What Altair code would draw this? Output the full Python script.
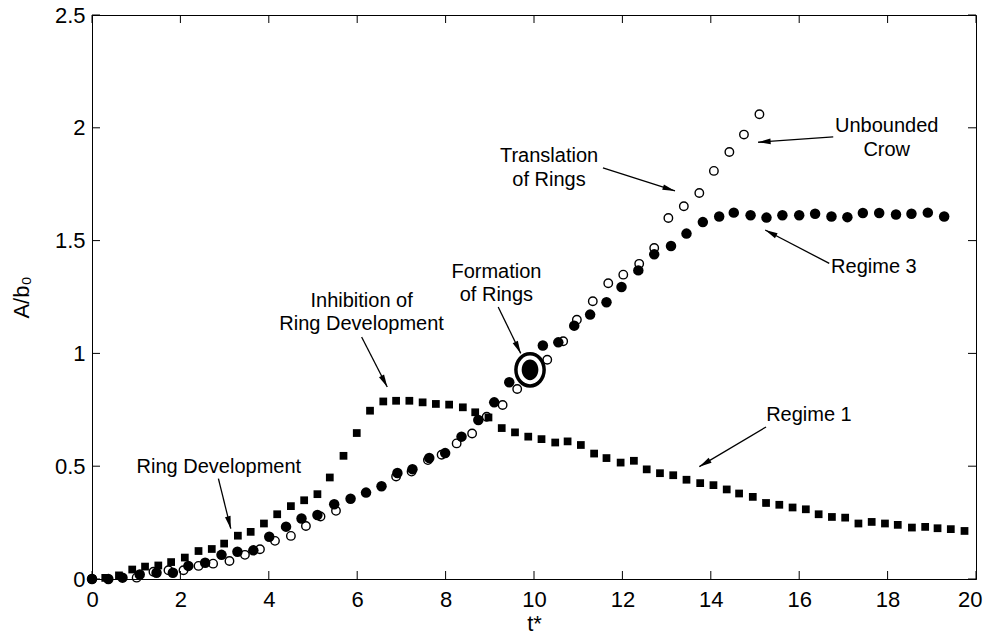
import math
import altair as alt
import pandas as pd

# ---------------- data ----------------
# Regime 1 : filled squares
sq_t = [0.00, 0.30, 0.61, 0.91, 1.20, 1.50, 1.79, 2.10, 2.41, 2.71, 2.99, 3.30, 3.59, 3.89,
        4.19, 4.50, 4.80, 5.10, 5.38, 5.69, 5.99, 6.29, 6.59, 6.88, 7.18, 7.48, 7.78, 8.08,
        8.39, 8.67, 8.97, 9.27, 9.57, 9.87, 10.17, 10.48, 10.76, 11.06, 11.36, 11.64, 11.96,
        12.26, 12.55, 12.85, 13.15, 13.45, 13.76, 14.06, 14.36, 14.64, 14.95, 15.25, 15.55,
        15.85, 16.15, 16.44, 16.74, 17.04, 17.34, 17.64, 17.94, 18.23, 18.55, 18.85, 19.13,
        19.43, 19.74]
sq_a = [0.000, 0.005, 0.016, 0.042, 0.055, 0.060, 0.075, 0.095, 0.124, 0.133, 0.157, 0.192,
        0.209, 0.246, 0.287, 0.323, 0.349, 0.376, 0.450, 0.546, 0.647, 0.746, 0.787, 0.790,
        0.790, 0.783, 0.776, 0.773, 0.761, 0.739, 0.716, 0.669, 0.650, 0.631, 0.620, 0.605,
        0.610, 0.594, 0.556, 0.536, 0.516, 0.524, 0.486, 0.469, 0.460, 0.440, 0.425, 0.416,
        0.397, 0.379, 0.364, 0.337, 0.329, 0.317, 0.309, 0.287, 0.275, 0.272, 0.246, 0.253,
        0.246, 0.240, 0.228, 0.231, 0.225, 0.221, 0.213]

# Regime 3 : filled circles
fc_t = [0.00, 0.37, 0.69, 1.08, 1.46, 1.83, 2.18, 2.56, 2.93, 3.29, 3.65, 4.01, 4.39, 4.74,
        5.10, 5.48, 5.85, 6.20, 6.55, 6.91, 7.25, 7.63, 7.99, 8.36, 8.74, 9.10, 9.44, 10.20,
        10.55, 10.91, 11.27, 11.64, 11.98, 12.36, 12.72, 13.10, 13.45, 13.82, 14.19, 14.52,
        14.90, 15.26, 15.62, 16.00, 16.36, 16.73, 17.09, 17.44, 17.81, 18.19, 18.54, 18.91,
        19.28]
fc_a = [0.000, 0.000, 0.006, 0.020, 0.028, 0.028, 0.058, 0.072, 0.107, 0.121, 0.127, 0.187,
        0.232, 0.268, 0.284, 0.331, 0.356, 0.383, 0.411, 0.470, 0.487, 0.536, 0.558, 0.631,
        0.705, 0.783, 0.872, 1.035, 1.049, 1.123, 1.172, 1.227, 1.294, 1.368, 1.439, 1.476,
        1.531, 1.582, 1.607, 1.624, 1.612, 1.602, 1.612, 1.612, 1.619, 1.607, 1.604, 1.622,
        1.622, 1.616, 1.619, 1.624, 1.607]

# Unbounded Crow : open circles
oc_t = [0.00, 1.01, 1.39, 1.73, 2.07, 2.41, 2.74, 3.11, 3.46, 3.80, 4.14, 4.50, 4.84, 5.17,
        5.52, 6.88, 7.23, 7.60, 7.91, 8.25, 8.60, 8.93, 9.29, 9.62, 10.30, 10.66, 10.97,
        11.33, 11.68, 12.02, 12.38, 12.72, 13.04, 13.39, 13.74, 14.07, 14.42, 14.75, 15.10]
oc_a = [0.000, 0.006, 0.032, 0.039, 0.039, 0.058, 0.068, 0.080, 0.107, 0.132, 0.169, 0.191,
        0.235, 0.277, 0.302, 0.454, 0.476, 0.527, 0.551, 0.601, 0.645, 0.719, 0.771, 0.842,
        0.972, 1.054, 1.149, 1.231, 1.311, 1.349, 1.397, 1.467, 1.600, 1.652, 1.711, 1.809,
        1.893, 1.970, 2.060]

# highlighted point ("Formation of Rings")
hl_t = [9.91]
hl_a = [0.927]

x_ticks = [0, 2, 4, 6, 8, 10, 12, 14, 16, 18, 20]
y_ticks = [0, 0.5, 1, 1.5, 2, 2.5]

# annotation text (one row per line)
ann_text = ["Ring Development", "Inhibition of", "Ring Development", "Formation", "of Rings",
            "Translation", "of Rings", "Unbounded", "Crow", "Regime 3", "Regime 1"]
ann_x = [2.87, 6.10, 6.10, 9.15, 9.15, 10.34, 10.34, 17.98, 17.98, 17.69, 16.22]
ann_y = [0.496, 1.233, 1.130, 1.360, 1.257, 1.877, 1.770, 2.007, 1.901, 1.383, 0.725]

# arrows (start -> tip)
arr_x1 = [2.86, 6.10, 9.19, 11.56, 16.77, 16.68, 15.25]
arr_y1 = [0.445, 1.073, 1.206, 1.822, 1.960, 1.399, 0.674]
arr_x2 = [3.14, 6.68, 9.70, 13.19, 15.07, 15.23, 13.74]
arr_y2 = [0.223, 0.851, 1.000, 1.720, 1.936, 1.547, 0.498]

# ---------------- layout ----------------
W, H = 884, 564
FONT = "Liberation Sans"

sx = W / 20.0
sy = H / 2.5

xs = alt.Scale(domain=[0, 20], nice=False, zero=False)
ys = alt.Scale(domain=[0, 2.5], nice=False, zero=False)

xaxis = alt.Axis(values=x_ticks, tickSize=0, labelPadding=10, labelFlush=True,
                 labelFlushOffset=6, labelOverlap=False, title="t*", titleY=51, titleX=W / 2,
                 titleBaseline="alphabetic", titleAlign="center", grid=False)
yaxis = alt.Axis(values=y_ticks, format="~g", tickSize=0, labelPadding=7, labelFlush=False,
                 labelOverlap=False, title="A/b₀", titleX=-64, titleY=H / 2,
                 titleAngle=270, titleAlign="center", titleBaseline="alphabetic", grid=False)

sq_df = pd.DataFrame({"t": sq_t, "a": sq_a})
fc_df = pd.DataFrame({"t": fc_t, "a": fc_a})
oc_df = pd.DataFrame({"t": oc_t, "a": oc_a})
hl_df = pd.DataFrame({"t": hl_t, "a": hl_a})
ann_df = pd.DataFrame({"t": ann_x, "a": ann_y, "label": ann_text})

angles = []
for x1, y1, x2, y2 in zip(arr_x1, arr_y1, arr_x2, arr_y2):
    dx = (x2 - x1) * sx
    dy = -(y2 - y1) * sy
    ang = math.degrees(math.atan2(dx, -dy)) % 360
    angles.append(ang)
arr_df = pd.DataFrame({"t": arr_x1, "a": arr_y1, "t2": arr_x2, "a2": arr_y2, "ang": angles})
head_df = pd.DataFrame({"t": arr_x2, "a": arr_y2, "ang": angles})
xt_df = pd.DataFrame({"t": x_ticks})
yt_df = pd.DataFrame({"a": y_ticks})


def X(field="t"):
    return alt.X(f"{field}:Q", scale=xs, axis=xaxis)


def Y(field="a"):
    return alt.Y(f"{field}:Q", scale=ys, axis=yaxis)


def ellipse_path(rx, ry):
    k = 0.5523
    return (f"M0,{-ry} C{k*rx:.4f},{-ry} {rx},{-k*ry:.4f} {rx},0 "
            f"C{rx},{k*ry:.4f} {k*rx:.4f},{ry} 0,{ry} "
            f"C{-k*rx:.4f},{ry} {-rx},{k*ry:.4f} {-rx},0 "
            f"C{-rx},{-k*ry:.4f} {-k*rx:.4f},{-ry} 0,{-ry} Z")


squares = alt.Chart(sq_df).mark_square(size=60, color="black", opacity=1).encode(x=X(), y=Y())
opens = alt.Chart(oc_df).mark_point(shape="circle", size=72, filled=False, color="black",
                                    strokeWidth=1.4, opacity=1).encode(x=X(), y=Y())
filled = alt.Chart(fc_df).mark_circle(size=110, color="black", opacity=1).encode(x=X(), y=Y())

ring = alt.Chart(hl_df).mark_point(shape=ellipse_path(0.876, 1.0), size=1037, filled=True,
                                   fill="white", stroke="black", strokeWidth=3.5,
                                   opacity=1).encode(x=X(), y=Y())
core = alt.Chart(hl_df).mark_point(shape=ellipse_path(0.807, 1.0), size=428, filled=True,
                                   fill="black", strokeWidth=0, opacity=1).encode(x=X(), y=Y())

TL = 8
xt_bot = alt.Chart(xt_df).mark_rule(color="black", strokeWidth=1).encode(
    x=X(), y=alt.value(H), y2=alt.value(H - TL))
xt_top = alt.Chart(xt_df).mark_rule(color="black", strokeWidth=1).encode(
    x=X(), y=alt.value(0), y2=alt.value(TL))
yt_left = alt.Chart(yt_df).mark_rule(color="black", strokeWidth=1).encode(
    y=Y(), x=alt.value(0), x2=alt.value(TL))
yt_right = alt.Chart(yt_df).mark_rule(color="black", strokeWidth=1).encode(
    y=Y(), x=alt.value(W), x2=alt.value(W - TL))

arrows = alt.Chart(arr_df).mark_rule(color="black", strokeWidth=1.3).encode(
    x=X(), y=Y(), x2="t2:Q", y2="a2:Q")
heads = alt.Chart(head_df).mark_point(shape="M0,0 L0.5,2.2 L-0.5,2.2 Z", size=130, filled=True,
                                      color="black", opacity=1).encode(
    x=X(), y=Y(), angle=alt.Angle("ang:Q", scale=None))

texts = alt.Chart(ann_df).mark_text(font=FONT, fontSize=20, color="black", align="center",
                                    baseline="middle").encode(x=X(), y=Y(), text="label:N")

chart = alt.layer(
    squares, opens, filled, ring, core,
    xt_bot, xt_top, yt_left, yt_right,
    arrows, heads, texts
).properties(
    width=W, height=H,
    padding={"left": 84, "top": 7, "right": 8, "bottom": 53},
    autosize=alt.AutoSizeParams(type="none"),
    background="white",
).configure_view(
    stroke="black", strokeWidth=1
).configure_axis(
    domainColor="black", domainWidth=1, labelColor="black", titleColor="black",
    labelFont=FONT, titleFont=FONT, labelFontSize=22, titleFontSize=22,
    titleFontWeight="normal", grid=False
)

chart.save("out.html", embed_options={"renderer": "svg", "actions": False})
